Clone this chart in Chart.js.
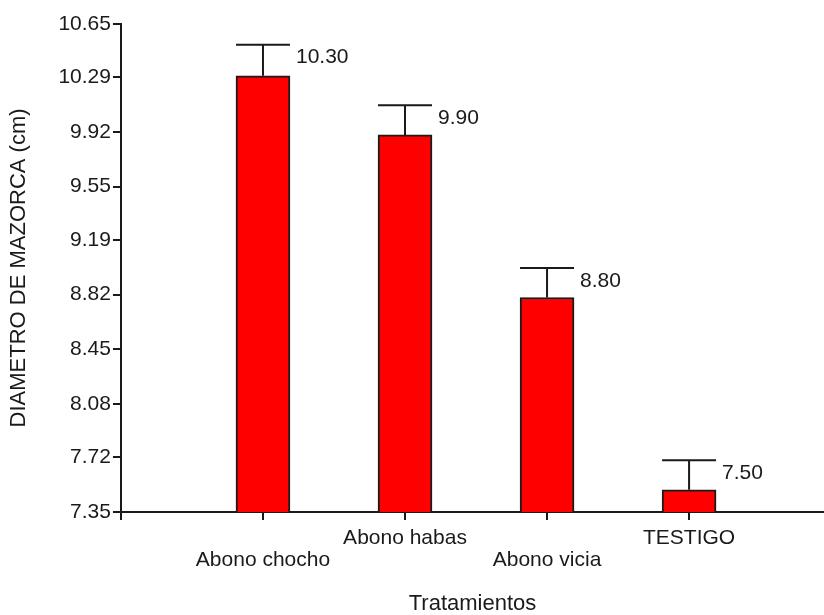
<!DOCTYPE html>
<html>
<head>
<meta charset="utf-8">
<script src="https://cdn.jsdelivr.net/npm/chart.js@4/dist/chart.umd.min.js"></script>
<style>
  html, body { margin: 0; padding: 0; background: #fff; }
  #wrap { width: 824px; height: 615px; }
</style>
</head>
<body>
<div id="wrap"><canvas id="chart"></canvas></div>
<script>
// ----------------------
// DATA
// ----------------------
const categories = ['Abono chocho', 'Abono habas', 'Abono vicia', 'TESTIGO'];
const means = [10.30, 9.90, 8.80, 7.50];
const errors = [0.21, 0.20, 0.20, 0.20];
const yTicks = [7.35, 7.72, 8.08, 8.45, 8.82, 9.19, 9.55, 9.92, 10.29, 10.65];

const FONT = "'Liberation Sans', Arial, sans-serif";
const INK = '#1a1a1a';

// ----------------------
// ERROR BARS + VALUE LABELS
// ----------------------
const errorBarPlugin = {
  id: 'errorBars',
  afterDatasetsDraw(chart) {
    const { ctx } = chart;
    const yScale = chart.scales.y;
    const meta = chart.getDatasetMeta(0);
    ctx.save();
    ctx.strokeStyle = INK;
    ctx.lineWidth = 2;
    meta.data.forEach((bar, i) => {
      const top = yScale.getPixelForValue(means[i] + errors[i]);
      const half = bar.width / 2;
      ctx.beginPath();
      ctx.moveTo(bar.x, bar.y);
      ctx.lineTo(bar.x, top);
      ctx.moveTo(bar.x - half, top);
      ctx.lineTo(bar.x + half, top);
      ctx.stroke();

      ctx.fillStyle = INK;
      ctx.font = `21px ${FONT}`;
      ctx.textAlign = 'left';
      ctx.textBaseline = 'middle';
      ctx.fillText(means[i].toFixed(2), bar.x + half + 6, top + 13);
    });
    ctx.restore();
  }
};

const points = categories.map((c, i) => ({ x: i + 1, y: means[i] }));

new Chart(document.getElementById('chart'), {
  type: 'bar',
  data: {
    datasets: [{
      data: points,
      backgroundColor: '#ff0000',
      borderColor: INK,
      borderWidth: 2,
      borderSkipped: 'bottom',
      barThickness: 54
    }]
  },
  options: {
    responsive: true,
    maintainAspectRatio: false,
    animation: false,
    layout: { padding: { top: 24, left: 6, right: 0, bottom: 0 } },
    plugins: { legend: { display: false }, tooltip: { enabled: false } },
    scales: {
      x: {
        type: 'linear',
        offset: false,
        min: 0,
        max: 4.95,
        afterBuildTicks: (scale) => {
          scale.ticks = [0, ...categories.map((c, i) => i + 1)].map(v => ({ value: v }));
        },
        border: { color: INK, width: 2 },
        grid: { drawOnChartArea: false, offset: false, color: INK, lineWidth: 2, tickLength: 8 },
        ticks: {
          color: INK,
          padding: 7,
          maxRotation: 0,
          autoSkip: false,
          font: { family: FONT, size: 21, lineHeight: 1.05 },
          callback: (v) => {
            const name = categories[v - 1];
            if (!name) return '';
            return (v % 2 === 1) ? ['', name] : [name];
          }
        },
        title: {
          display: true,
          text: 'Tratamientos',
          color: INK,
          font: { family: FONT, size: 22, lineHeight: 1.0 },
          padding: { top: 15, bottom: 0 }
        }
      },
      y: {
        min: 7.35,
        max: 10.65,
        afterBuildTicks: (scale) => {
          scale.ticks = yTicks.map(v => ({ value: v }));
        },
        border: { color: INK, width: 2 },
        grid: { drawOnChartArea: false, color: INK, lineWidth: 2, tickLength: 8 },
        ticks: {
          color: INK,
          padding: 2,
          font: { family: FONT, size: 21 },
          callback: (v) => Number(v).toFixed(2)
        },
        title: {
          display: true,
          text: 'DIAMETRO DE MAZORCA (cm)',
          color: INK,
          font: { family: FONT, size: 22 },
          padding: { top: 0, bottom: 24 }
        }
      }
    }
  },
  plugins: [errorBarPlugin]
});
</script>
</body>
</html>
